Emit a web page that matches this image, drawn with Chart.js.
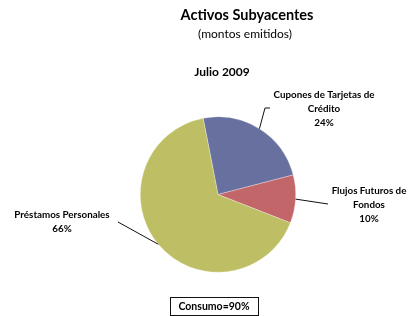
<!DOCTYPE html>
<html>
<head>
<meta charset="utf-8">
<script src="https://cdn.jsdelivr.net/npm/chart.js@4/dist/chart.umd.min.js"></script>
<style>
  html, body { margin: 0; padding: 0; background: #fff; }
  #wrap { width: 409px; height: 316px; position: relative; }
</style>
</head>
<body>
<div id="wrap"><canvas id="pie"></canvas></div>
<script>
// data
const categories = ["Cupones de Tarjetas de Crédito", "Flujos Futuros de Fondos", "Préstamos Personales"];
const values = [24, 10, 66];
const labelLines = [
  ["Cupones de Tarjetas de", "Crédito", "24%"],
  ["Flujos Futuros de", "Fondos", "10%"],
  ["Préstamos Personales", "66%"]
];
const colors = ["#67709e", "#c3666a", "#bebf64"];

// label placement (text center x, first line y) and leader elbows
const labelPos = [
  { x: 324, y: 95, elbow: [265, 108], end: [270, 108] },
  { x: 369, y: 191, elbow: null, end: [328, 204] },
  { x: 62, y: 215, elbow: null, end: [118, 222] }
];

const font = "Lato, 'Open Sans', sans-serif";

const decorations = {
  id: "decorations",
  afterDraw(chart) {
    const ctx = chart.ctx;
    ctx.save();
    ctx.fillStyle = "#000";
    ctx.textAlign = "center";
    ctx.textBaseline = "middle";

    ctx.font = "bold 14.5px " + font;
    ctx.fillText("Activos Subyacentes", 247, 15);
    ctx.font = "12px " + font;
    ctx.fillText("(montos emitidos)", 245, 34);
    ctx.font = "bold 12px " + font;
    ctx.fillText("Julio 2009", 222, 72);

    // leader lines + labels
    const arcs = chart.getDatasetMeta(0).data;
    ctx.strokeStyle = "#111";
    ctx.lineWidth = 1;
    arcs.forEach((arc, i) => {
      const mid = (arc.startAngle + arc.endAngle) / 2;
      const ax = arc.x + Math.cos(mid) * arc.outerRadius;
      const ay = arc.y + Math.sin(mid) * arc.outerRadius;
      const p = labelPos[i];
      ctx.beginPath();
      ctx.moveTo(ax, ay);
      if (p.elbow) ctx.lineTo(p.elbow[0], p.elbow[1]);
      ctx.lineTo(p.end[0], p.end[1]);
      ctx.stroke();

      ctx.font = "bold 9.8px " + font;
      labelLines[i].forEach((t, j) => {
        ctx.fillText(t, p.x, p.y + j * 14);
      });
    });

    // box
    ctx.strokeStyle = "#111";
    ctx.strokeRect(170.5, 297.5, 88, 18);
    ctx.font = "bold 10.5px " + font;
    ctx.fillText("Consumo=" + (values[0] + values[2]) + "%", 214, 307);
    ctx.restore();
  }
};

new Chart(document.getElementById("pie"), {
  type: "pie",
  data: {
    labels: categories,
    datasets: [{
      data: values,
      backgroundColor: colors,
      borderColor: "rgba(255,255,255,0.6)",
      borderWidth: 0.5
    }]
  },
  options: {
    responsive: true,
    maintainAspectRatio: false,
    animation: false,
    rotation: -11,
    layout: { padding: { left: 140, right: 113, top: 116, bottom: 43 } },
    plugins: {
      legend: { display: false },
      tooltip: { enabled: false },
      title: { display: false }
    }
  },
  plugins: [decorations]
});
</script>
</body>
</html>
